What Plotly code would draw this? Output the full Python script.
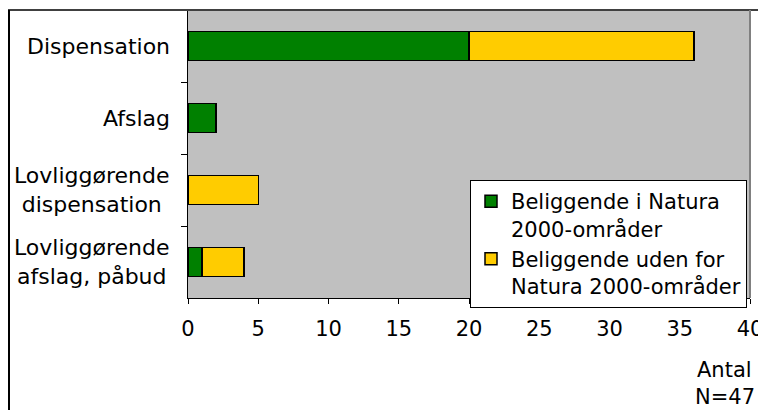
import plotly.graph_objects as go

categories = ["Dispensation", "Afslag", "Lovliggørende dispensation", "Lovliggørende afslag, påbud"]
category_labels = ["Dispensation", "Afslag", "Lovliggørende<br>dispensation", "Lovliggørende<br>afslag, påbud"]
inside_natura = [20, 2, 0, 1]
outside_natura = [16, 0, 5, 3]
series_names = ["Beliggende i Natura<br>2000-områder", "Beliggende uden for<br>Natura 2000-områder"]
x_ticks = [0, 5, 10, 15, 20, 25, 30, 35, 40]

FONT = "DejaVu Sans"
FS = 21
FS_CAT = 22

fig = go.Figure()
fig.add_trace(go.Bar(y=categories, x=inside_natura, orientation="h", name=series_names[0],
                     marker=dict(color="#008000", line=dict(color="black", width=1.5)), width=0.4))
fig.add_trace(go.Bar(y=categories, x=outside_natura, orientation="h", name=series_names[1],
                     marker=dict(color="#FFCC00", line=dict(color="black", width=1.5)), width=0.4))

# figure pixel coordinates (page has an 8px body margin)
OFF = 8
W, H = 758, 402
L, T = 188 - OFF, 10 - OFF
PR, PB = 750 - OFF, 298 - OFF
R, B = W - PR, H - PB
pw, ph = PR - L, PB - T

def px_x(p):
    return (p - OFF - L) / pw

def px_y(p):
    return (PB - (p - OFF)) / ph

annotations = []
for cat, lab in zip(categories, category_labels):
    annotations.append(dict(x=0, xref="paper", y=cat, yref="y", text=lab, showarrow=False,
                            xanchor="right", yanchor="middle", xshift=-16, align="center",
                            font=dict(family=FONT, size=FS_CAT, color="black")))
annotations.append(dict(x=px_x(754), xref="paper", y=px_y(370), yref="paper", text="Antal",
                        showarrow=False, xanchor="right", yanchor="middle",
                        font=dict(family=FONT, size=FS, color="black")))
annotations.append(dict(x=px_x(757), xref="paper", y=px_y(397), yref="paper", text="N=47",
                        showarrow=False, xanchor="right", yanchor="middle",
                        font=dict(family=FONT, size=FS, color="black")))

shapes = [
    dict(type="line", xref="paper", yref="paper", x0=px_x(8), x1=px_x(766), y0=px_y(10), y1=px_y(10),
         line=dict(color="#404040", width=2)),
    dict(type="line", xref="paper", yref="paper", x0=px_x(9), x1=px_x(9), y0=px_y(10), y1=px_y(412),
         line=dict(color="black", width=2)),
    dict(type="line", xref="paper", yref="paper", x0=px_x(763), x1=px_x(763), y0=px_y(10), y1=px_y(412),
         line=dict(color="#606060", width=2)),
    dict(type="line", xref="paper", yref="paper", x0=1, x1=1, y0=0, y1=1,
         line=dict(color="#808080", width=2)),
]

fig.update_layout(
    barmode="stack",
    width=W, height=H,
    margin=dict(l=L, r=R, t=T, b=B),
    paper_bgcolor="white",
    plot_bgcolor="#C0C0C0",
    font=dict(family=FONT, size=FS, color="black"),
    showlegend=True,
    legend=dict(x=px_x(470), y=px_y(180), xanchor="left", yanchor="top",
                bgcolor="white", bordercolor="black", borderwidth=1,
                font=dict(family=FONT, size=FS, color="black"),
                valign="top", tracegroupgap=0, traceorder="normal"),
    xaxis=dict(range=[0, 40], tickvals=x_ticks, ticktext=[str(v) for v in x_ticks],
               ticks="outside", ticklen=5, tickcolor="black", showline=True, linecolor="black",
               linewidth=1, showgrid=False, zeroline=False, ticklabelstandoff=7,
               tickfont=dict(family=FONT, size=FS, color="black")),
    yaxis=dict(categoryorder="array", categoryarray=categories, autorange="reversed",
               tickson="boundaries", ticks="outside", ticklen=6, tickcolor="black",
               showticklabels=False, showline=True, linecolor="black", linewidth=1,
               showgrid=False, zeroline=False),
    annotations=annotations,
    shapes=shapes,
)

fig.write_html("out.html")
